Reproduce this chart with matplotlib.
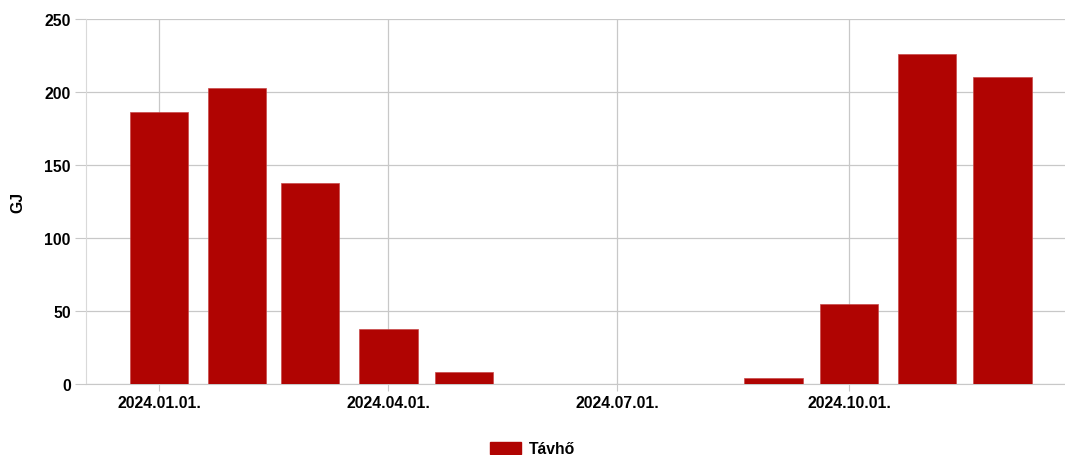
import pandas as pd
import numpy as np
import matplotlib
import matplotlib.pyplot as plt
import matplotlib.dates as mdates
from matplotlib.patches import Patch

# monthly district heating consumption
months = ['2024-01-01', '2024-02-01', '2024-03-01', '2024-04-01', '2024-05-01', '2024-06-01',
          '2024-07-01', '2024-08-01', '2024-09-01', '2024-10-01', '2024-11-01', '2024-12-01']
values = [186, 203, 138, 38, 8, 0, 0, 0, 4, 55, 226, 210]
tick_dates = ['2024-01-01', '2024-04-01', '2024-07-01', '2024-10-01']
series_name = 'Távhő'

dates = pd.to_datetime(months)
ticks = pd.to_datetime(tick_dates)

matplotlib.rc('font', family=['Liberation Sans', 'DejaVu Sans'], size=11.3, weight='bold')
matplotlib.rc('axes', facecolor='white')

fig = plt.figure(figsize=(10.65, 4.56), dpi=100)
ax = fig.add_axes([86 / 1065, 1 - 385 / 456, 1 - 86 / 1065, (385 - 20) / 456])

bar_color = '#b00402'
ax.bar(dates, values, width=23.2, color=bar_color, edgecolor='#c84848', linewidth=0.5, zorder=3)

# axes limits (dates)
ax.set_xlim(dates[0] - pd.Timedelta(days=29.1), dates[0] + pd.Timedelta(days=359.8))
ax.set_ylim(0, 250)
ax.set_yticks([0, 50, 100, 150, 200, 250])
ax.set_xticks(ticks)
ax.xaxis.set_major_formatter(mdates.DateFormatter('%Y.%m.%d.'))

grid_color = '#c8c8c8'
ax.grid(True, color=grid_color, linewidth=0.9, zorder=0)
for s in ['top', 'right']:
    ax.spines[s].set_visible(False)
ax.spines['left'].set_color('#d9d9d9')
ax.spines['bottom'].set_color(grid_color)
ax.tick_params(axis='y', length=8, color=grid_color, pad=3, labelsize=11.3)
ax.tick_params(axis='x', length=5, color=grid_color, pad=3, labelsize=11.3)

ax.set_ylabel('GJ', fontsize=11.3, fontweight='bold', labelpad=13.5)

# legend at the bottom
handles = [Patch(facecolor=bar_color, edgecolor=bar_color, label=series_name)]
fig.legend(handles=handles, loc='center', bbox_to_anchor=(0.5, 1 - 450 / 456), frameon=False,
           handlelength=2.0, handleheight=0.8, handletextpad=0.5, fontsize=11.3)

plt.savefig('out.png', dpi=100)
